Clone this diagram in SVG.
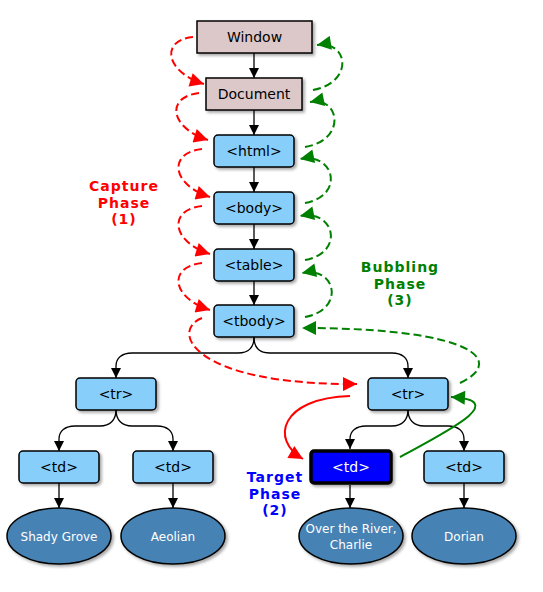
<svg xmlns="http://www.w3.org/2000/svg" width="543" height="592" viewBox="0 0 543 592">
<defs>
<filter id="sh" x="-20%" y="-20%" width="150%" height="160%">
<feDropShadow dx="2" dy="2" stdDeviation="1.5" flood-color="#000" flood-opacity="0.35"/>
</filter>
<marker id="ab" viewBox="0 0 10 10" refX="10" refY="5" markerWidth="10" markerHeight="10" markerUnits="userSpaceOnUse" orient="auto"><path d="M0,0 L10,5 L0,10 z" fill="#000" stroke="none"/></marker>
<marker id="ar" viewBox="0 0 10 10" refX="10" refY="5" markerWidth="16" markerHeight="14" markerUnits="userSpaceOnUse" orient="auto"><path d="M0,0 L10,5 L0,10 z" fill="#ff0000" stroke="none"/></marker>
<marker id="ag" viewBox="0 0 10 10" refX="10" refY="5" markerWidth="16" markerHeight="14" markerUnits="userSpaceOnUse" orient="auto"><path d="M0,0 L10,5 L0,10 z" fill="#008000" stroke="none"/></marker>
</defs>
<style>
.doc{fill:#dcc8c8;stroke:#000;stroke-width:1.5;filter:url(#sh)}
.el{fill:#87cefa;stroke:#000;stroke-width:1.5;filter:url(#sh)}
.tgt{fill:#0000ff;stroke:#000;stroke-width:3.5;filter:url(#sh)}
.leaf{fill:#4682b4;stroke:#000;stroke-width:1.5;filter:url(#sh)}
.t{font-family:"DejaVu Sans",Verdana,sans-serif;font-size:14px;text-anchor:middle;fill:#000}
.tw{font-family:"DejaVu Sans",Verdana,sans-serif;font-size:14px;text-anchor:middle;fill:#fff}
.lw{font-family:"DejaVu Sans",Verdana,sans-serif;font-size:12px;text-anchor:middle;fill:#fff}
.lab{font-family:"DejaVu Sans",Verdana,sans-serif;font-size:14px;font-weight:bold;letter-spacing:1px;text-anchor:middle}
.k{fill:none;stroke:#000;stroke-width:1.3;marker-end:url(#ab)}
.rd{fill:none;stroke:#ff0000;stroke-width:2;stroke-dasharray:8,4;marker-end:url(#ar)}
.gd{fill:none;stroke:#008000;stroke-width:2;stroke-dasharray:8,4;marker-end:url(#ag)}
.rs{fill:none;stroke:#ff0000;stroke-width:2;marker-end:url(#ar)}
.gs{fill:none;stroke:#008000;stroke-width:2;marker-end:url(#ag)}
</style>
<g id="connectors">
<path class="k" d="M254,53 L254,78"/>
<path class="k" d="M254,110 L254,135"/>
<path class="k" d="M254,167 L254,192"/>
<path class="k" d="M254,224 L254,249"/>
<path class="k" d="M254,281 L254,305"/>
<path class="k" d="M254,337 C254,348 248,353 238,353 L132,353 C122,353 116,358 116,366 L116,378"/>
<path class="k" d="M254,337 C254,348 260,353 270,353 L392,353 C402,353 408,358 408,366 L408,378"/>
<path class="k" d="M116,410 C116,420 110,426 100,426 L75,426 C65,426 59,431 59,439 L59,451"/>
<path class="k" d="M116,410 C116,420 122,426 132,426 L157,426 C167,426 173,431 173,439 L173,451"/>
<path class="k" d="M408,410 C408,420 402,426 392,426 L366,426 C356,426 350,431 350,439 L350,449"/>
<path class="k" d="M408,410 C408,420 414,426 424,426 L448,426 C458,426 464,431 464,439 L464,451"/>
<path class="k" d="M59,483 L59,508"/>
<path class="k" d="M173,483 L173,508"/>
<path class="k" d="M350,485 L350,508"/>
<path class="k" d="M464,483 L464,508"/>
<path class="rd" d="M193,37 C160,40 165,72 204,84"/>
<path class="rd" d="M199,93 C165,97 170,128 208,140"/>
<path class="rd" d="M202,149 C167,153 172,185 210,197"/>
<path class="rd" d="M202,206 C167,210 172,242 210,254"/>
<path class="rd" d="M202,263 C167,267 172,298 210,310"/>
<path class="rd" d="M202,318 C170,330 190,385 357,384"/>
<path class="gd" d="M313,90 C355,82 348,40 317,45"/>
<path class="gd" d="M305,147 C347,140 340,96 310,102"/>
<path class="gd" d="M305,203 C345,196 335,152 300,159"/>
<path class="gd" d="M305,260 C345,253 335,209 300,216"/>
<path class="gd" d="M305,317 C345,310 337,266 302,273"/>
<path class="gd" d="M460,383 C505,362 478,328 302,328"/>
<path class="rs" d="M350,396 C280,398 270,440 303,459"/>
<path class="gs" d="M400,457 C450,430 510,400 451,397"/>
</g>
<g id="window"><rect class="doc" x="197" y="21" width="115" height="32"/><text class="t" x="254.5" y="42">Window</text></g>
<g id="document"><rect class="doc" x="206" y="78" width="96" height="32"/><text class="t" x="254" y="99">Document</text></g>
<g id="html"><rect class="el" x="214" y="135" width="80" height="32" rx="4"/><text class="t" x="254" y="156">&lt;html&gt;</text></g>
<g id="body"><rect class="el" x="214" y="192" width="80" height="32" rx="4"/><text class="t" x="254" y="213">&lt;body&gt;</text></g>
<g id="table"><rect class="el" x="214" y="249" width="80" height="32" rx="4"/><text class="t" x="254" y="270">&lt;table&gt;</text></g>
<g id="tbody"><rect class="el" x="214" y="305" width="80" height="32" rx="4"/><text class="t" x="254" y="326">&lt;tbody&gt;</text></g>
<g id="tr1"><rect class="el" x="76" y="378" width="80" height="32" rx="4"/><text class="t" x="116" y="399">&lt;tr&gt;</text></g>
<g id="tr2"><rect class="el" x="368" y="378" width="80" height="32" rx="4"/><text class="t" x="408" y="399">&lt;tr&gt;</text></g>
<g id="td1"><rect class="el" x="19" y="451" width="80" height="32" rx="4"/><text class="t" x="59" y="472">&lt;td&gt;</text></g>
<g id="td2"><rect class="el" x="133" y="451" width="80" height="32" rx="4"/><text class="t" x="173" y="472">&lt;td&gt;</text></g>
<g id="td3"><rect class="tgt" x="311" y="451" width="80" height="32" rx="3"/><text class="tw" x="351" y="472">&lt;td&gt;</text></g>
<g id="td4"><rect class="el" x="424" y="451" width="80" height="32" rx="4"/><text class="t" x="464" y="472">&lt;td&gt;</text></g>
<g id="leaf1"><ellipse class="leaf" cx="59" cy="536" rx="52" ry="28"/><text class="lw" x="59" y="541">Shady Grove</text></g>
<g id="leaf2"><ellipse class="leaf" cx="173" cy="536" rx="52" ry="28"/><text class="lw" x="173" y="541">Aeolian</text></g>
<g id="leaf3"><ellipse class="leaf" cx="351" cy="536" rx="52" ry="28"/><text class="lw" x="351" y="533">Over the River,</text><text class="lw" x="351" y="549">Charlie</text></g>
<g id="leaf4"><ellipse class="leaf" cx="464" cy="536" rx="52" ry="28"/><text class="lw" x="464" y="541">Dorian</text></g>
<g id="labels">
<text class="lab" fill="#ff0000" x="124" y="191">Capture</text>
<text class="lab" fill="#ff0000" x="124" y="207.5">Phase</text>
<text class="lab" fill="#ff0000" x="124" y="224">(1)</text>
<text class="lab" fill="#008000" x="400" y="272">Bubbling</text>
<text class="lab" fill="#008000" x="400" y="288.5">Phase</text>
<text class="lab" fill="#008000" x="400" y="305">(3)</text>
<text class="lab" fill="#0000ff" x="275" y="482">Target</text>
<text class="lab" fill="#0000ff" x="275" y="498.5">Phase</text>
<text class="lab" fill="#0000ff" x="275" y="515">(2)</text>
</g>
</svg>
